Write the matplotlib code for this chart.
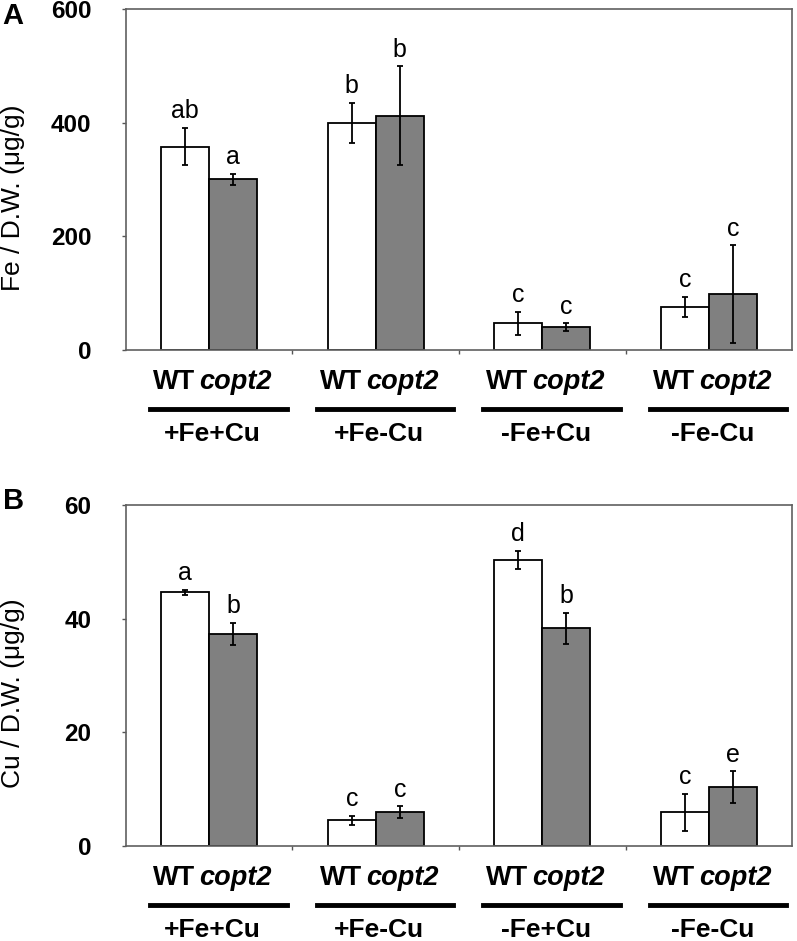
import numpy as np
import matplotlib.pyplot as plt
from matplotlib.lines import Line2D
import matplotlib.transforms as mtransforms

plt.rcParams['font.family'] = ['Liberation Sans', 'DejaVu Sans']

conditions = ['+Fe+Cu', '+Fe-Cu', '-Fe+Cu', '-Fe-Cu']

# panel A: Fe content
fe_wt = [358, 400, 47, 76]
fe_wt_err = [33, 35, 20, 18]
fe_copt2 = [300, 412, 40, 98]
fe_copt2_err = [10, 87, 7, 86]
fe_wt_letters = ['ab', 'b', 'c', 'c']
fe_copt2_letters = ['a', 'b', 'c', 'c']

# panel B: Cu content
cu_wt = [44.6, 4.5, 50.3, 5.9]
cu_wt_err = [0.5, 0.8, 1.6, 3.3]
cu_copt2 = [37.3, 6.0, 38.3, 10.3]
cu_copt2_err = [2.0, 1.0, 2.7, 2.8]
cu_wt_letters = ['a', 'c', 'd', 'c']
cu_copt2_letters = ['b', 'c', 'b', 'e']

fig = plt.figure(figsize=(7.97, 9.41), dpi=100)
axA = fig.add_axes([0.158, 0.628, 0.836, 0.3625])
axB = fig.add_axes([0.158, 0.101, 0.836, 0.3625])

width = 0.288
x = np.arange(len(conditions)) + 0.5


def draw_panel(ax, wt, wt_err, mut, mut_err, wt_let, mut_let, ymax, step, ylabel, tag, tag_y, pad):
    ax.bar(x - width / 2, wt, width, color='white', edgecolor='black', linewidth=1.3, zorder=2)
    ax.bar(x + width / 2, mut, width, color='#808080', edgecolor='black', linewidth=1.3, zorder=2)
    ax.errorbar(x - width / 2, wt, yerr=wt_err, fmt='none', ecolor='black',
                elinewidth=1.3, capsize=2.5, capthick=1.3, zorder=3)
    ax.errorbar(x + width / 2, mut, yerr=mut_err, fmt='none', ecolor='black',
                elinewidth=1.3, capsize=2.5, capthick=1.3, zorder=3)
    for i in range(len(x)):
        ax.text(x[i] - width / 2, wt[i] + wt_err[i] + pad, wt_let[i],
                ha='center', va='bottom', fontsize=18)
        ax.text(x[i] + width / 2, mut[i] + mut_err[i] + pad, mut_let[i],
                ha='center', va='bottom', fontsize=18)

    ax.set_xlim(0, 4)
    ax.set_ylim(0, ymax)
    ax.set_yticks(np.arange(0, ymax + 1, step))
    ax.set_yticklabels([str(int(v)) for v in np.arange(0, ymax + 1, step)],
                       fontsize=17.5, fontweight='bold')
    ax.set_xticks([1, 2, 3])
    ax.set_xticklabels([])
    ax.tick_params(axis='both', direction='out', length=3, width=1, color='#555555')
    ax.tick_params(axis='y', pad=22)
    for sp in ax.spines.values():
        sp.set_color('#606060')
        sp.set_linewidth(1.2)
    ax.set_ylabel(ylabel, fontsize=19)
    ax.yaxis.set_label_coords(-0.152, 0.447)

    trans = mtransforms.blended_transform_factory(ax.transData, ax.transAxes)
    for i, c in enumerate(conditions):
        ax.text(x[i] - 0.085, -0.095, 'WT', transform=trans, ha='right', va='center',
                fontsize=19.5, fontweight='bold')
        ax.text(x[i] - 0.06, -0.095, 'copt2', transform=trans, ha='left', va='center',
                fontsize=19.5, fontweight='bold', style='italic')
        ax.add_line(Line2D([x[i] - 0.355, x[i] + 0.465], [-0.172, -0.172], transform=trans,
                           color='black', linewidth=3.5, clip_on=False))
        ax.text(x[i] + 0.02, -0.245, c, transform=trans, ha='center', va='center',
                fontsize=19, fontweight='bold')

    ax.text(-0.185, tag_y, tag, transform=ax.transAxes, ha='left', va='center',
            fontsize=21, fontweight='bold')


draw_panel(axA, fe_wt, fe_wt_err, fe_copt2, fe_copt2_err, fe_wt_letters, fe_copt2_letters,
           600, 200, 'Fe / D.W. (\u03bcg/g)', 'A', 0.979, 8)
draw_panel(axB, cu_wt, cu_wt_err, cu_copt2, cu_copt2_err, cu_wt_letters, cu_copt2_letters,
           60, 20, 'Cu / D.W. (\u03bcg/g)', 'B', 1.012, 0.8)

fig.savefig('out.png', dpi=100)
